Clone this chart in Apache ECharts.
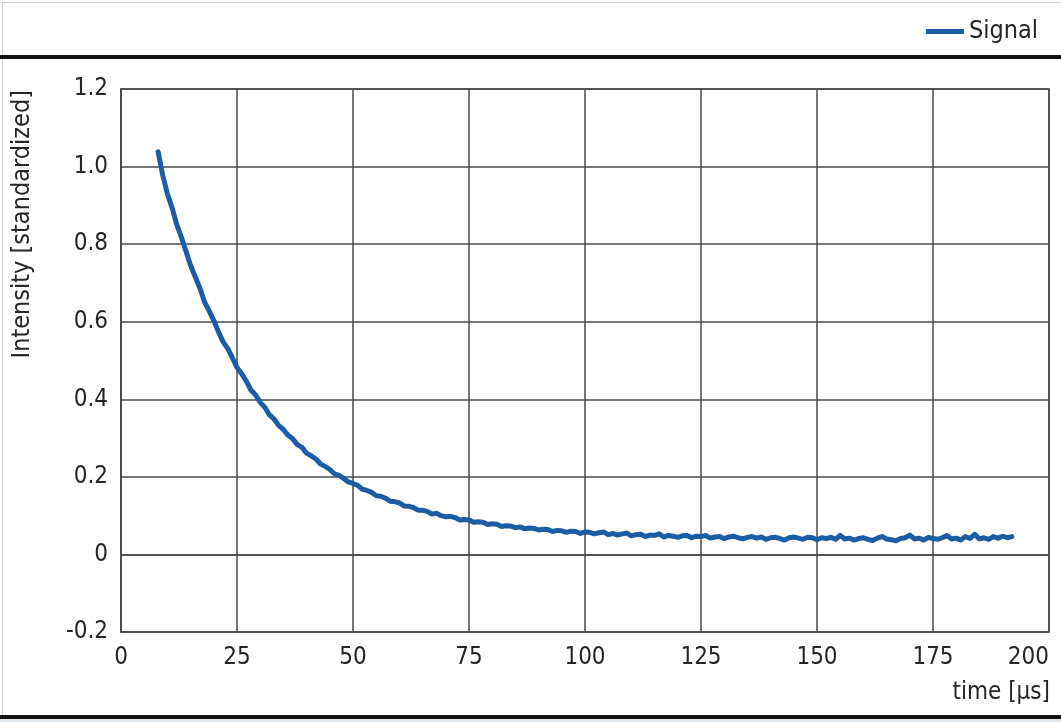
<!DOCTYPE html>
<html>
<head>
<meta charset="utf-8">
<script src="https://cdn.jsdelivr.net/npm/echarts@6/dist/echarts.min.js"></script>
<style>
html,body{margin:0;padding:0;background:#fff;}
#chart{width:1061px;height:722px;}
</style>
</head>
<body>
<div id="chart"></div>
<script>
// ---- data ----
var seriesName = 'Signal';
var xAxisTitle = 'time [µs]';
var yAxisTitle = 'Intensity [standardized]';
var xTicks = [0, 25, 50, 75, 100, 125, 150, 175, 200];
var yTicks = [-0.2, 0, 0.2, 0.4, 0.6, 0.8, 1.0, 1.2];

var time = [
  8, 9, 10, 11, 12, 13, 14, 15, 16, 17, 18, 19, 20, 21, 22, 23, 24, 25, 26, 27,
  28, 29, 30, 31, 32, 33, 34, 35, 36, 37, 38, 39, 40, 41, 42, 43, 44, 45, 46, 47,
  48, 49, 50, 51, 52, 53, 54, 55, 56, 57, 58, 59, 60, 61, 62, 63, 64, 65, 66, 67,
  68, 69, 70, 71, 72, 73, 74, 75, 76, 77, 78, 79, 80, 81, 82, 83, 84, 85, 86, 87,
  88, 89, 90, 91, 92, 93, 94, 95, 96, 97, 98, 99, 100, 101, 102, 103, 104, 105, 106, 107,
  108, 109, 110, 111, 112, 113, 114, 115, 116, 117, 118, 119, 120, 121, 122, 123, 124, 125, 126, 127,
  128, 129, 130, 131, 132, 133, 134, 135, 136, 137, 138, 139, 140, 141, 142, 143, 144, 145, 146, 147,
  148, 149, 150, 151, 152, 153, 154, 155, 156, 157, 158, 159, 160, 161, 162, 163, 164, 165, 166, 167,
  168, 169, 170, 171, 172, 173, 174, 175, 176, 177, 178, 179, 180, 181, 182, 183, 184, 185, 186, 187,
  188, 189, 190, 191, 192
];

var intensity = [
  1.038, 0.977, 0.930, 0.894, 0.851, 0.818, 0.782, 0.745, 0.716, 0.687, 0.651, 0.628, 0.603, 0.574, 0.548, 0.531, 0.507, 0.482, 0.466, 0.447,
  0.424, 0.411, 0.392, 0.379, 0.360, 0.349, 0.332, 0.322, 0.307, 0.298, 0.283, 0.276, 0.261, 0.254, 0.246, 0.233, 0.227, 0.219, 0.208, 0.204,
  0.196, 0.187, 0.183, 0.178, 0.168, 0.165, 0.160, 0.151, 0.150, 0.145, 0.137, 0.136, 0.133, 0.125, 0.124, 0.121, 0.114, 0.114, 0.111, 0.104,
  0.106, 0.100, 0.097, 0.098, 0.095, 0.089, 0.090, 0.089, 0.083, 0.084, 0.083, 0.077, 0.079, 0.078, 0.072, 0.074, 0.073, 0.069, 0.071, 0.066,
  0.068, 0.067, 0.063, 0.065, 0.064, 0.059, 0.062, 0.061, 0.057, 0.060, 0.059, 0.054, 0.058, 0.057, 0.053, 0.056, 0.058, 0.051, 0.054, 0.050,
  0.053, 0.055, 0.048, 0.051, 0.052, 0.046, 0.050, 0.049, 0.053, 0.045, 0.049, 0.047, 0.044, 0.048, 0.049, 0.043, 0.047, 0.046, 0.049, 0.042,
  0.045, 0.046, 0.041, 0.045, 0.047, 0.043, 0.040, 0.044, 0.046, 0.042, 0.045, 0.039, 0.043, 0.044, 0.041, 0.037, 0.043, 0.045, 0.042, 0.039,
  0.044, 0.043, 0.038, 0.043, 0.041, 0.044, 0.039, 0.049, 0.040, 0.042, 0.037, 0.041, 0.043, 0.039, 0.036, 0.042, 0.046, 0.040, 0.038, 0.035,
  0.041, 0.043, 0.050, 0.040, 0.042, 0.037, 0.044, 0.041, 0.039, 0.043, 0.049, 0.040, 0.042, 0.037, 0.046, 0.041, 0.052, 0.040, 0.043, 0.039,
  0.046, 0.042, 0.047, 0.043, 0.046
];

var points = time.map(function (t, i) { return [t, intensity[i]]; });

var FONT = "'Liberation Sans Narrow', 'DejaVu Sans Condensed', 'Roboto Condensed', 'Liberation Sans', sans-serif";
var TXT = '#262626';
var GRIDC = '#4a4a4a';
var BLUE = '#1c5ca5';

var chart = echarts.init(document.getElementById('chart'), null, {renderer: 'canvas'});

var option = {
  backgroundColor: '#ffffff',
  animation: false,
  legend: {
    show: true,
    right: 18,
    top: 14,
    itemWidth: 38,
    itemHeight: 5,
    itemGap: 6,
    icon: 'rect',
    textStyle: {fontFamily: FONT, fontSize: 25, color: TXT},
    data: [seriesName]
  },
  grid: {
    left: 121, right: 12, top: 89, bottom: 90,
    show: true,
    borderColor: GRIDC,
    borderWidth: 1.5,
    containLabel: false,
    outerBoundsMode: 'none'
  },
  xAxis: {
    type: 'value',
    min: xTicks[0],
    max: xTicks[xTicks.length - 1],
    interval: 25,
    axisLine: {show: true, lineStyle: {color: GRIDC, width: 1.5}},
    axisTick: {show: false},
    splitLine: {show: true, lineStyle: {color: GRIDC, width: 1.5}},
    axisLabel: {
      fontFamily: FONT, fontSize: 24, color: TXT, margin: 14,
      alignMaxLabel: 'right',
      formatter: function (v) { return String(v); }
    }
  },
  yAxis: {
    type: 'value',
    min: yTicks[0],
    max: yTicks[yTicks.length - 1],
    interval: 0.2,
    axisLine: {show: true, lineStyle: {color: GRIDC, width: 1.5}},
    axisTick: {show: false},
    splitLine: {show: true, lineStyle: {color: GRIDC, width: 1.5}},
    axisLabel: {
      fontFamily: FONT, fontSize: 24, color: TXT, margin: 13,
      formatter: function (v) {
        if (Math.abs(v) < 1e-9) return '0';
        return (Math.round(v * 10) / 10).toFixed(1);
      }
    }
  },
  series: [{
    name: seriesName,
    type: 'line',
    data: points,
    showSymbol: false,
    symbol: 'none',
    lineStyle: {color: BLUE, width: 5, join: 'round', cap: 'round'},
    itemStyle: {color: BLUE},
    z: 5
  }],
  graphic: [
    {type: 'rect', left: 0, top: 0, shape: {width: 1060, height: 721}, style: {fill: 'none', stroke: '#cfcfcf', lineWidth: 1}, silent: true, z: 0},
    {type: 'rect', left: 0, top: 55, shape: {width: 1061, height: 4}, style: {fill: '#141414'}, silent: true},
    {type: 'rect', left: 0, top: 715, shape: {width: 1061, height: 4}, style: {fill: '#141414'}, silent: true},
    {type: 'rect', left: 0, top: 719, shape: {width: 1061, height: 3}, style: {fill: '#dfe6ee'}, silent: true},
    {
      type: 'text', x: 1050, y: 681,
      style: {text: xAxisTitle, fontFamily: FONT, fontSize: 24, fill: TXT, align: 'right', verticalAlign: 'top'},
      silent: true
    },
    {
      type: 'text', x: 10, y: 90, rotation: Math.PI / 2,
      style: {text: yAxisTitle, fontFamily: FONT, fontSize: 25, fill: TXT, align: 'right', verticalAlign: 'top'},
      silent: true
    }
  ]
};

chart.setOption(option);
</script>
</body>
</html>
